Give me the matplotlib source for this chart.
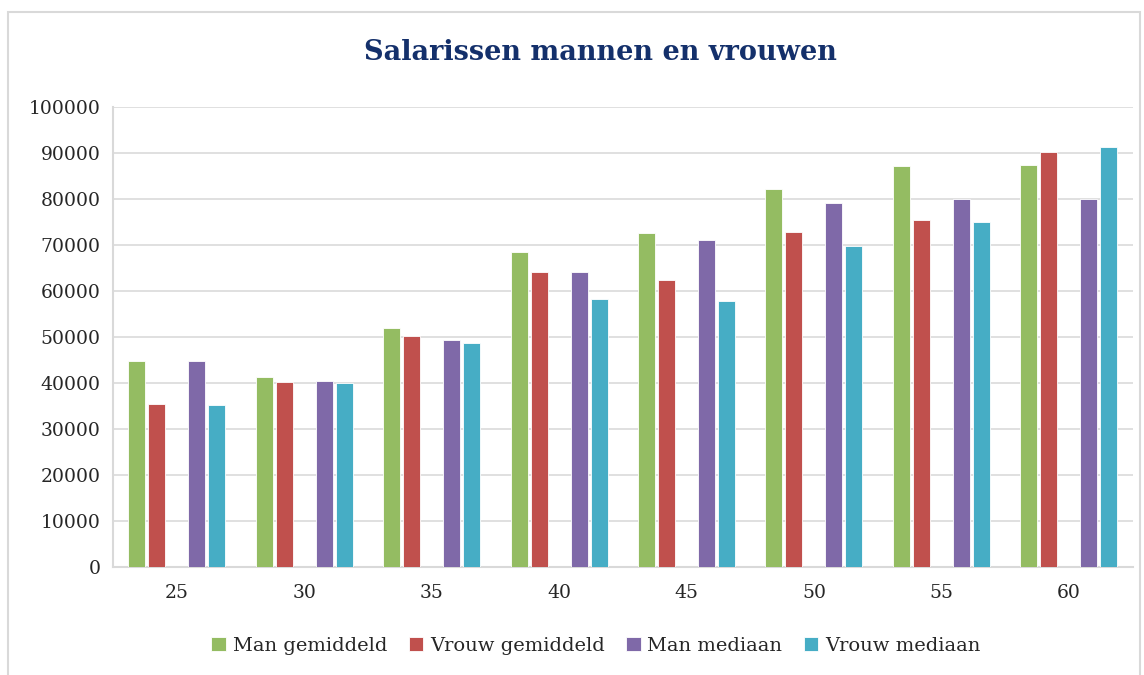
"""
Salarissen mannen en vrouwen - grouped bar chart, per age bracket.
"""

import numpy as np
import matplotlib.pyplot as plt
from matplotlib.patches import Rectangle

# Data
ages = ["25", "30", "35", "40", "45", "50", "55", "60"]
man_gemiddeld = [44800, 41200, 51900, 68500, 72500, 82100, 87200, 87300]
vrouw_gemiddeld = [35500, 40300, 50300, 64100, 62300, 72800, 75500, 90300]
man_mediaan = [44800, 40500, 49400, 64100, 71100, 79100, 80000, 80000]
vrouw_mediaan = [35300, 39900, 48600, 58300, 57900, 69800, 75100, 91400]

series_names = ["Man gemiddeld", "Vrouw gemiddeld", "Man mediaan", "Vrouw mediaan"]
colors = ["#94BC62", "#C0504D", "#7F69A8", "#46ADC5"]

plt.rcParams['font.family'] = ['DejaVu Serif']

fig = plt.figure(figsize=(11.44, 6.75), dpi=100)
ax = fig.add_axes([0.0988, 0.16, 0.8912, 0.6815])

# outer chart frame
fig.patches.append(Rectangle((8 / 1144, -0.01), 1132 / 1144, 1 - 12 / 675 + 0.01,
                             transform=fig.transFigure, fill=False,
                             edgecolor="#D9D9D9", linewidth=1.5))

x = np.arange(len(ages))
slot = 20 / 127.5
bar_w = 17 / 127.5
offsets = [-2, -1, 1, 2]  # empty slot in the middle, like the original
all_series = [man_gemiddeld, vrouw_gemiddeld, man_mediaan, vrouw_mediaan]

for vals, name, col, off in zip(all_series, series_names, colors, offsets):
    ax.bar(x + off * slot, vals, width=bar_w, color=col, label=name,
           edgecolor="white", linewidth=0.6, zorder=3)

ax.set_xlim(-0.5, len(ages) - 0.5)
ax.set_ylim(0, 100000)
ax.set_yticks(range(0, 100001, 10000))
ax.set_xticks(x)
ax.set_xticklabels(ages)

ax.grid(axis="y", color="#DDDDDD", linewidth=1.3, zorder=0)
for side in ["top", "right"]:
    ax.spines[side].set_visible(False)
for side in ["left", "bottom"]:
    ax.spines[side].set_color("#D9D9D9")
    ax.spines[side].set_linewidth(1.5)

ax.tick_params(axis="both", length=0, labelsize=13.5, colors="#262626")
ax.tick_params(axis="y", pad=9)
ax.tick_params(axis="x", pad=12)

fig.text(0.525, 1 - 53 / 675, "Salarissen mannen en vrouwen", ha="center", va="center",
         fontsize=19.5, fontweight="bold", color="#14306B")

fig.legend(loc="center", bbox_to_anchor=(0.521, 1 - 646 / 675), ncol=4, frameon=False,
           fontsize=14, handlelength=0.75, handleheight=0.75, handletextpad=0.35,
           columnspacing=1.1, labelcolor="#262626")

plt.savefig("out.png", dpi=100)
plt.close(fig)
